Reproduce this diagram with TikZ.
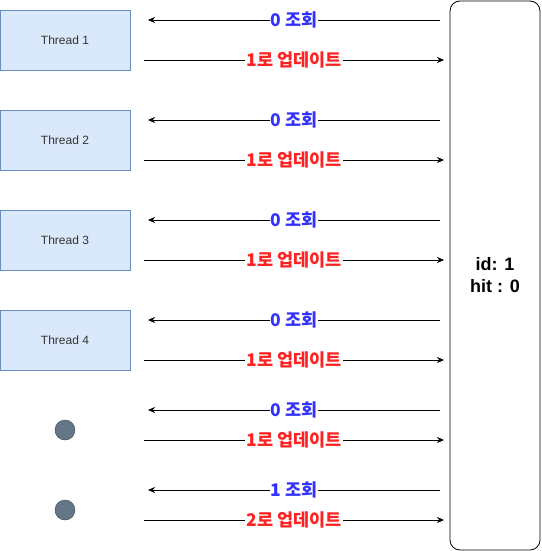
\documentclass[tikz,border=0pt]{standalone}
\usepackage{fontspec}
\setmainfont{Liberation Sans}
\newfontfamily\krfont{Noto Sans CJK KR}
\usetikzlibrary{arrows.meta,positioning}
\definecolor{thfill}{HTML}{DAE8FC}
\definecolor{thdraw}{HTML}{6C8EBF}
\definecolor{dotfill}{HTML}{647687}
\definecolor{dotdraw}{HTML}{314354}
\definecolor{readblue}{HTML}{3333FF}
\definecolor{writered}{HTML}{FF2222}

\begin{document}
\begin{tikzpicture}[x=1pt,y=-1pt,
  thread/.style={draw=thdraw,fill=thfill,minimum width=130pt,minimum height=60pt,
    inner sep=0pt,text=black!80,font=\fontsize{12}{14}\selectfont},
  more/.style={circle,draw=dotdraw,fill=dotfill,minimum size=20pt,inner sep=0pt},
  msg/.style={fill=white,inner sep=1pt,font=\krfont\bfseries\fontsize{17.5}{20}\selectfont},
  flow/.style={-{Stealth[length=7pt,width=6pt]},line width=0.6pt}]
\useasboundingbox (0,0) rectangle (541,551);
% shared record
\node[draw,rounded corners=10pt,minimum width=90pt,minimum height=549pt,line width=0.8pt,
  align=center,font=\bfseries\fontsize{18}{22}\selectfont] (rec) at (495,275.5) {id: 1\\ hit : 0};
% threads
\foreach \i in {1,...,4}
  \node[thread] (t\i) at (65,{40+100*(\i-1)}) {Thread \i};
\node[more] (d1) at (65,430) {};
\node[more] (d2) at (65,510) {};
% read / update messages
\foreach \n/\ya/\yb/\a/\b in {1/20/60/0/1,2/120/160/0/1,3/220/260/0/1,4/320/360/0/1,5/410/440/0/1,6/490/520/1/2} {
  \coordinate (qs\n) at (440,\ya);
  \coordinate (qe\n) at (148,\ya);
  \coordinate (us\n) at (144,\yb);
  \coordinate (ue\n) at (444,\yb);
  \draw[flow] (qs\n) -- node[msg,text=readblue] {{\a} 조회} (qe\n);
  \draw[flow] (us\n) -- node[msg,text=writered] {{\b}로 업데이트} (ue\n);
}
\end{tikzpicture}
\end{document}
